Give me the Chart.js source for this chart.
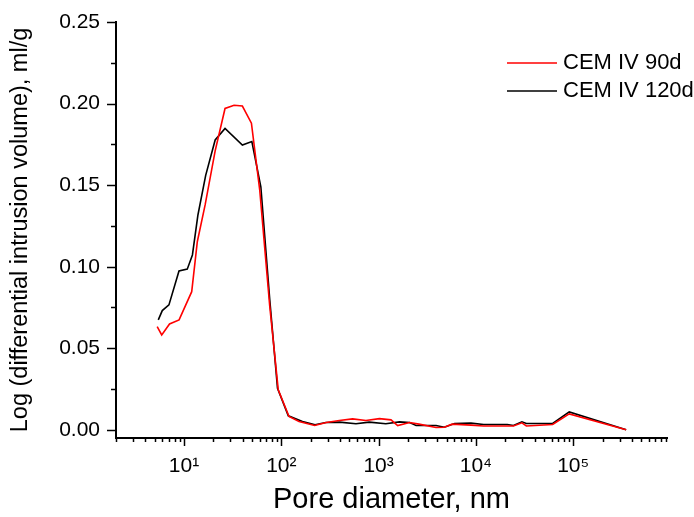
<!DOCTYPE html>
<html>
<head>
<meta charset="utf-8">
<script src="https://cdn.jsdelivr.net/npm/chart.js@4.4.0/dist/chart.umd.min.js"></script>
<style>
  html, body { margin: 0; padding: 0; background: #fff; }
</style>
</head>
<body>
<canvas id="myChart" width="694" height="517"></canvas>
<script>
// pore diameter (nm) / log differential intrusion (ml/g)
const diam90 = [5.3, 5.9, 7.1, 8.9, 12.0, 13.7, 16.5, 20.9, 26.4, 32.7, 39.8, 49.3, 60, 76, 93, 120, 152, 220, 290, 395, 540, 740, 1020, 1340, 1570, 2080, 2600, 3890, 4730, 5700, 8900, 12000, 21000, 24300, 29700, 33000, 61500, 91000, 350000]
const vol90 = [0.0633, 0.0582, 0.0649, 0.0674, 0.0847, 0.1153, 0.138, 0.171, 0.197, 0.199, 0.1985, 0.188, 0.147, 0.076, 0.0245, 0.0082, 0.0051, 0.0027, 0.0045, 0.0057, 0.0067, 0.0057, 0.0069, 0.0061, 0.0026, 0.0045, 0.0035, 0.0014, 0.0016, 0.0035, 0.0029, 0.0024, 0.0024, 0.0024, 0.0043, 0.0024, 0.0033, 0.0098, 0.0]

const diam120 = [5.44, 5.98, 7.0, 8.88, 10.8, 12.2, 13.9, 16.7, 20.9, 26.4, 39.8, 49.8, 61.6, 76, 91.4, 118, 165, 222, 287, 395, 585, 800, 1185, 1640, 2080, 2430, 3890, 4730, 6040, 8900, 12000, 21000, 24300, 29700, 33000, 61500, 91000, 350000]
const vol120 = [0.0674, 0.0731, 0.0766, 0.0974, 0.0985, 0.1072, 0.1317, 0.156, 0.1777, 0.1848, 0.1746, 0.1767, 0.149, 0.080, 0.0255, 0.0086, 0.0051, 0.0031, 0.0045, 0.0047, 0.0037, 0.0047, 0.0037, 0.0049, 0.0045, 0.0027, 0.0027, 0.0016, 0.0039, 0.0041, 0.0033, 0.0033, 0.0027, 0.0049, 0.0039, 0.0039, 0.011, 0.0]

const xMajor = [10, 100, 1000, 10000, 100000]
const xLabels = ['10\u00b9', '10\u00b2', '10\u00b3', '10\u2074', '10\u2075']
const yTicks = [0, 0.025, 0.05, 0.075, 0.10, 0.125, 0.15, 0.175, 0.20, 0.225, 0.25]

function pontos(xs, ys) {
  return xs.map((v, i) => ({x: v, y: ys[i]}))
}

Chart.defaults.color = '#000'
Chart.defaults.font.family = "'Liberation Sans', Arial, sans-serif"

// tick marks: long for major, short for minor
const marcas = {
  id: 'marcas',
  afterDraw(chart) {
    const ctx = chart.ctx
    const sx = chart.scales.x
    const sy = chart.scales.y
    ctx.save()
    ctx.strokeStyle = '#000'
    ctx.lineWidth = 1.5
    sx.ticks.forEach(t => {
      const px = Math.round(sx.getPixelForValue(t.value)) + 0.5
      const len = xMajor.includes(t.value) ? 8 : 4
      ctx.beginPath()
      ctx.moveTo(px, sx.top)
      ctx.lineTo(px, sx.top + len)
      ctx.stroke()
    })
    sy.ticks.forEach((t, i) => {
      const py = Math.round(sy.getPixelForValue(t.value)) + 0.5
      const len = i % 2 === 0 ? 9 : 5
      ctx.beginPath()
      ctx.moveTo(sy.right, py)
      ctx.lineTo(sy.right - len, py)
      ctx.stroke()
    })
    ctx.restore()
  }
}

// legend in the upper right corner
const legenda = {
  id: 'legenda',
  afterDraw(chart) {
    const ctx = chart.ctx
    ctx.save()
    ctx.font = "22px 'Liberation Sans', Arial, sans-serif"
    ctx.textBaseline = 'middle'
    ctx.fillStyle = '#000'
    chart.data.datasets.forEach((ds, i) => {
      const y = 63 + i * 28
      ctx.strokeStyle = ds.borderColor
      ctx.lineWidth = 1.6
      ctx.beginPath()
      ctx.moveTo(507, y)
      ctx.lineTo(557, y)
      ctx.stroke()
      ctx.fillText(ds.label, 563, y)
    })
    ctx.restore()
  }
}

const ctx = document.getElementById('myChart')

const data = {
  datasets: [{
    label: 'CEM IV 90d',
    data: pontos(diam90, vol90),
    borderColor: 'rgb(255, 0, 0)',
    backgroundColor: 'rgb(255, 0, 0)',
    borderWidth: 1.6,
    pointRadius: 0,
    tension: 0
  }, {
    label: 'CEM IV 120d',
    data: pontos(diam120, vol120),
    borderColor: 'rgb(0, 0, 0)',
    backgroundColor: 'rgb(0, 0, 0)',
    borderWidth: 1.6,
    pointRadius: 0,
    tension: 0
  }]
}

const config = {
  type: 'line',
  data: data,
  plugins: [marcas, legenda],
  options: {
    responsive: false,
    animation: false,
    layout: {
      padding: {top: 22, right: 27, left: 0, bottom: 0}
    },
    plugins: {
      legend: {display: false},
      tooltip: {enabled: false}
    },
    scales: {
      x: {
        type: 'logarithmic',
        min: 2,
        max: 920000,
        border: {color: '#000', width: 2},
        grid: {drawOnChartArea: false, tickLength: 8, tickColor: 'rgba(0,0,0,0)'},
        afterBuildTicks: (scale) => {
          scale.ticks = scale.ticks.filter(t => {
            const p = Math.pow(10, Math.floor(Math.log10(t.value) + 1e-9))
            const s = t.value / p
            return Math.abs(s - Math.round(s)) < 1e-6
          })
        },
        afterFit: (scale) => { scale.height = 79 },
        ticks: {
          autoSkip: false,
          maxRotation: 0,
          padding: 8,
          font: {size: 21},
          callback: (value) => {
            const i = xMajor.indexOf(value)
            return i >= 0 ? xLabels[i] : ''
          }
        },
        title: {
          display: true,
          text: 'Pore diameter, nm',
          font: {size: 29},
          padding: {top: 0, bottom: 0}
        }
      },
      y: {
        min: -0.005,
        max: 0.25,
        border: {color: '#000', width: 2},
        grid: {drawOnChartArea: false, tickLength: 9, tickColor: 'rgba(0,0,0,0)'},
        afterBuildTicks: (scale) => {
          scale.ticks = yTicks.map(v => ({value: v}))
        },
        afterFit: (scale) => { scale.width = 116 },
        ticks: {
          autoSkip: false,
          padding: 7,
          font: {size: 21},
          callback: (value, index) => index % 2 === 0 ? value.toFixed(2) : ''
        },
        title: {
          display: true,
          text: 'Log (differential intrusion volume), ml/g',
          font: {size: 23.5},
          padding: {top: 6, bottom: 0}
        }
      }
    }
  }
}

const myChart = new Chart(ctx, config)
</script>
</body>
</html>
